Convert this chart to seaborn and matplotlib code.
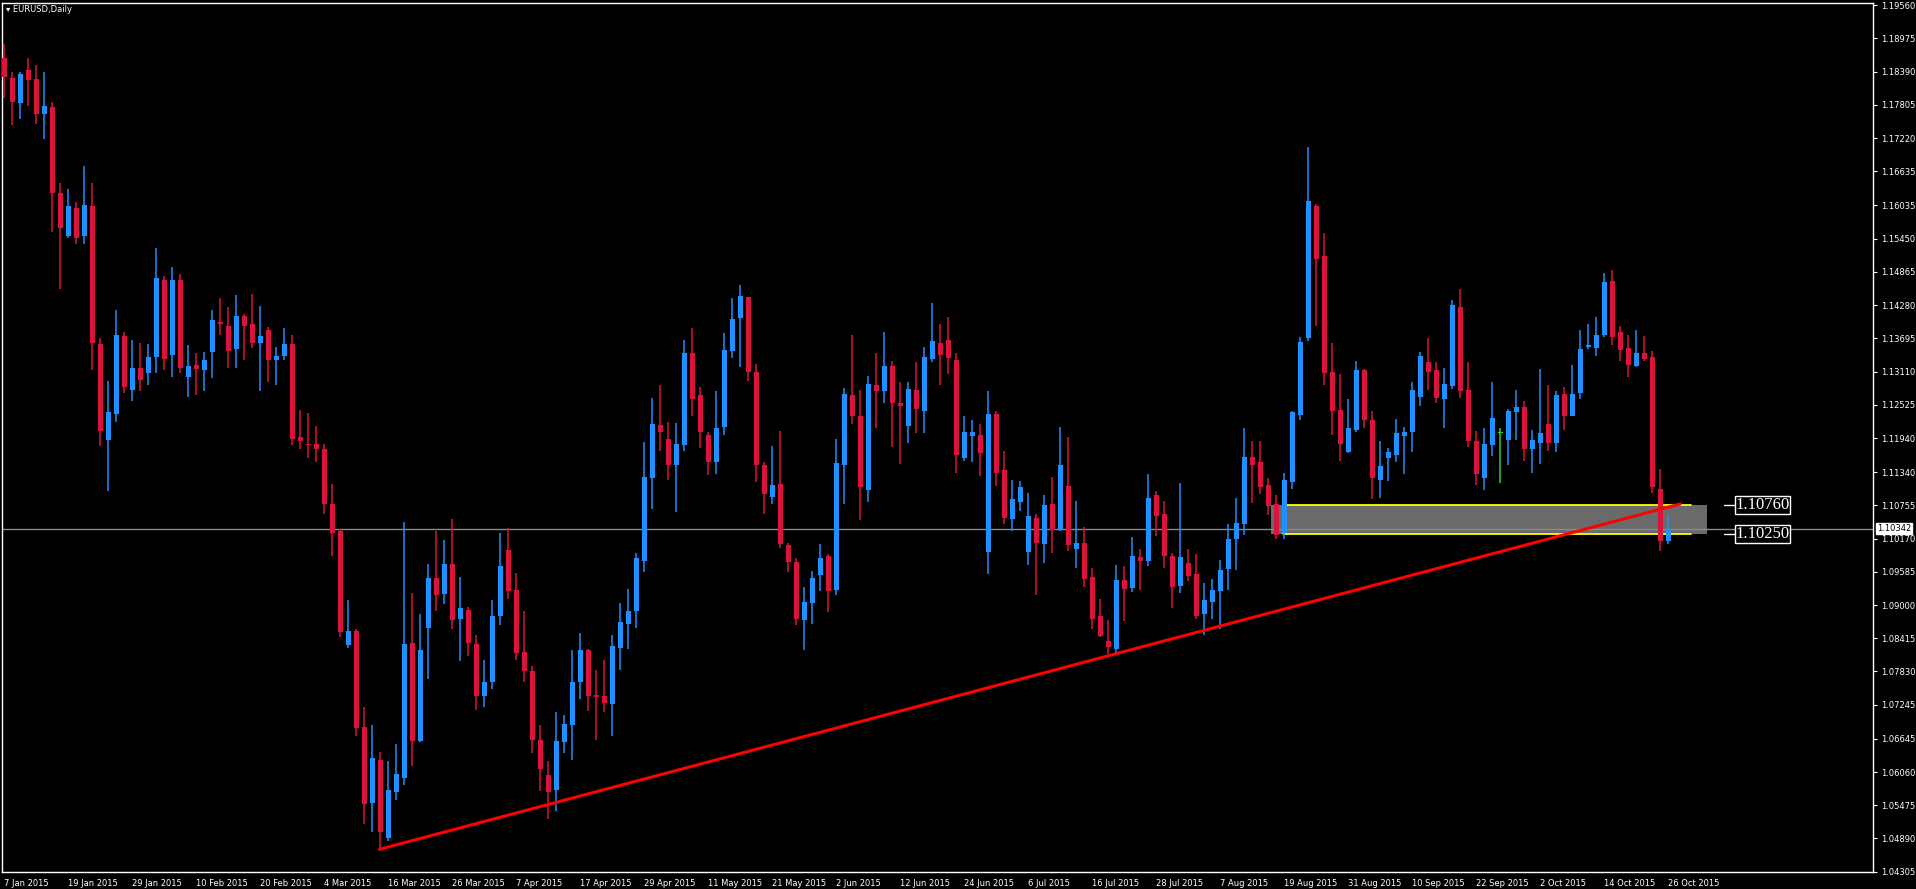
import matplotlib
matplotlib.use("Agg")
import matplotlib.pyplot as plt
import matplotlib.transforms as mtransforms
import numpy as np
import pandas as pd
import seaborn as sns

opens = [1.1863,1.1828,1.1783,1.1842,1.1826,1.1764,1.1777,1.1626,1.1549,1.1599,
1.1549,1.1603,1.1360,1.1190,1.1237,1.1373,1.1278,1.1317,1.1308,1.1336,
1.1473,1.1341,1.1473,1.1302,1.1322,1.1313,1.1345,1.1399,1.1392,1.1350,
1.1408,1.1394,1.1362,1.1385,1.1332,1.1338,1.1359,1.1195,1.1182,1.1183,
1.1174,1.1078,1.1031,1.0830,1.0855,1.0686,1.0551,1.0628,1.0489,1.0570,
1.0595,1.0834,1.0660,1.0860,1.0947,1.0920,1.0973,1.0876,1.0892,1.0832,
1.0739,1.0765,1.0881,1.0997,1.0927,1.0818,1.0783,1.0662,1.0600,1.0575,
1.0658,1.0688,1.0765,1.0820,1.0741,1.0739,1.0725,1.0825,1.0866,1.0890,
1.0978,1.1124,1.1217,1.1193,1.1147,1.1182,1.1344,1.1270,1.1200,1.1152,
1.1214,1.1347,1.1405,1.1442,1.1310,1.1147,1.1091,1.1113,1.1006,1.0976,
1.0874,1.0904,1.0952,1.0987,1.0927,1.1147,1.1270,1.1232,1.1102,1.1288,
1.1277,1.1320,1.1256,1.1216,1.1279,1.1241,1.1334,1.1362,1.1367,1.1332,
1.1158,1.1197,1.1200,1.0993,1.1237,1.1137,1.1051,1.1081,1.0993,1.1054,
1.1007,1.1077,1.1033,1.1109,1.0998,1.1010,1.0949,1.0880,1.0836,1.0822,
1.0944,1.0930,1.0984,1.0977,1.1093,1.1061,1.0986,1.0933,1.0974,1.0954,
1.0885,1.0905,1.0924,1.0963,1.1017,1.1042,1.1160,1.1151,1.1112,1.1077,
1.1026,1.1116,1.1235,1.1371,1.1603,1.1515,1.1311,1.1244,1.1170,1.1209,
1.1314,1.1225,1.1121,1.1158,1.1165,1.1198,1.1205,1.1267,1.1328,1.1314,
1.1263,1.1286,1.1425,1.1279,1.1189,1.1124,1.1181,1.1203,1.1190,1.1240,
1.1248,1.1174,1.1186,1.1219,1.1186,1.1272,1.1233,1.1274,1.1355,1.1353,
1.1376,1.1471,1.1381,1.1353,1.1321,1.1344,1.1337,1.1105,1.1013]
highs = [1.1888,1.1839,1.1839,1.1863,1.1851,1.1839,1.1786,1.1643,1.1633,1.1610,
1.1673,1.1643,1.1371,1.1294,1.1420,1.1380,1.1366,1.1362,1.1360,1.1529,
1.1480,1.1496,1.1482,1.1357,1.1343,1.1345,1.1420,1.1440,1.1425,1.1445,
1.1413,1.1447,1.1427,1.1390,1.1355,1.1387,1.1376,1.1244,1.1238,1.1215,
1.1183,1.1113,1.1033,1.0908,1.0858,1.0721,1.0688,1.0641,1.0625,1.0656,
1.1047,1.0922,1.0885,1.0973,1.1031,1.1015,1.1052,1.0950,1.0897,1.0848,
1.0804,1.0908,1.1027,1.1036,1.0957,1.0890,1.0792,1.0688,1.0625,1.0711,
1.0707,1.0820,1.0851,1.0822,1.0785,1.0804,1.0848,1.0903,1.0929,1.0992,
1.1187,1.1265,1.1287,1.1223,1.1221,1.1367,1.1388,1.1284,1.1205,1.1277,
1.1379,1.1440,1.1463,1.1442,1.1324,1.1152,1.1180,1.1207,1.1010,1.0983,
1.0931,1.0960,1.1008,1.0989,1.1193,1.1282,1.1376,1.1279,1.1304,1.1343,
1.1381,1.1330,1.1293,1.1292,1.1327,1.1355,1.1432,1.1395,1.1407,1.1344,
1.1233,1.1226,1.1219,1.1276,1.1242,1.1172,1.1121,1.1118,1.1097,1.1060,
1.1093,1.1125,1.1214,1.1196,1.1084,1.1037,1.0965,1.0910,1.0873,1.0970,
1.0968,1.1019,1.0998,1.1130,1.1100,1.1084,1.0991,1.1114,1.0998,1.0989,
1.0938,1.0945,1.0980,1.1042,1.1089,1.1212,1.1188,1.1188,1.1124,1.1093,
1.1133,1.1242,1.1372,1.1706,1.1606,1.1555,1.1362,1.1307,1.1262,1.1330,
1.1316,1.1242,1.1188,1.1177,1.1228,1.1214,1.1293,1.1346,1.1370,1.1327,
1.1318,1.1437,1.1457,1.1328,1.1207,1.1212,1.1293,1.1212,1.1246,1.1279,
1.1260,1.1209,1.1316,1.1288,1.1277,1.1283,1.1323,1.1385,1.1394,1.1407,
1.1485,1.1490,1.1392,1.1376,1.1385,1.1374,1.1348,1.1140,1.1058]
lows = [1.1793,1.1745,1.1755,1.1778,1.1746,1.1720,1.1556,1.1456,1.1546,1.1535,
1.1535,1.1314,1.1180,1.1100,1.1222,1.1273,1.1259,1.1276,1.1288,1.1309,
1.1313,1.1301,1.1308,1.1267,1.1269,1.1276,1.1299,1.1376,1.1317,1.1318,
1.1331,1.1352,1.1276,1.1292,1.1287,1.1332,1.1181,1.1174,1.1158,1.1152,
1.1061,1.0987,1.0843,1.0824,1.0670,1.0515,1.0500,1.0470,1.0484,1.0556,
1.0584,1.0616,1.0658,1.0769,1.0890,1.0901,1.0857,1.0802,1.0811,1.0716,
1.0721,1.0753,1.0864,1.0910,1.0804,1.0765,1.0640,1.0572,1.0524,1.0537,
1.0640,1.0628,1.0735,1.0714,1.0663,1.0711,1.0669,1.0786,1.0822,1.0860,
1.0959,1.1069,1.1171,1.1121,1.1064,1.1171,1.1233,1.1177,1.1129,1.1131,
1.1200,1.1335,1.1319,1.1294,1.1117,1.1061,1.1078,1.1001,1.0959,1.0864,
1.0820,1.0867,1.0925,1.0888,1.0917,1.1077,1.1219,1.1049,1.1082,1.1211,
1.1256,1.1179,1.1149,1.1186,1.1202,1.1202,1.1327,1.1288,1.1307,1.1133,
1.1153,1.1151,1.1128,1.0954,1.1110,1.1042,1.1031,1.1065,1.0970,1.0917,
1.0974,1.0991,1.1030,1.0996,1.0966,1.0931,1.0858,1.0843,1.0814,1.0815,
1.0872,1.0923,1.0926,1.0968,1.1021,1.0966,1.0894,1.0922,1.0942,1.0875,
1.0848,1.0875,1.0857,1.0926,1.0961,1.1024,1.1079,1.1096,1.1058,1.1017,
1.1017,1.1105,1.1226,1.1365,1.1392,1.1288,1.1200,1.1154,1.1168,1.1205,
1.1212,1.1086,1.1088,1.1119,1.1151,1.1130,1.1170,1.1251,1.1279,1.1255,
1.1211,1.1281,1.1265,1.1179,1.1112,1.1103,1.1163,1.1114,1.1146,1.1191,
1.1154,1.1133,1.1149,1.1172,1.1170,1.1209,1.1232,1.1263,1.1350,1.1339,
1.1372,1.1358,1.1330,1.1302,1.1319,1.1330,1.1098,1.0996,1.1007]
closes = [1.1830,1.1786,1.1835,1.1825,1.1764,1.1779,1.1625,1.1563,1.1603,1.1546,
1.1605,1.1361,1.1206,1.1239,1.1376,1.1283,1.1317,1.1297,1.1336,1.1476,
1.1334,1.1473,1.1317,1.1320,1.1315,1.1331,1.1401,1.1394,1.1348,1.1408,
1.1392,1.1362,1.1374,1.1331,1.1338,1.1359,1.1192,1.1188,1.1181,1.1174,
1.1077,1.1026,1.0852,1.0855,1.0683,1.0549,1.0630,1.0500,1.0574,1.0602,
1.0832,1.0660,1.0820,1.0947,1.0918,1.0973,1.0874,1.0894,1.0834,1.0739,
1.0765,1.0881,1.0969,1.0924,1.0815,1.0783,1.0663,1.0612,1.0570,1.0660,
1.0690,1.0765,1.0820,1.0739,1.0738,1.0727,1.0827,1.0871,1.0890,1.0982,
1.1126,1.1219,1.1205,1.1147,1.1184,1.1344,1.1263,1.1205,1.1152,1.1212,
1.1349,1.1403,1.1444,1.1310,1.1147,1.1096,1.1112,1.1008,1.0976,1.0876,
1.0906,1.0948,1.0983,1.0924,1.1150,1.1272,1.1233,1.1108,1.1290,1.1277,
1.1320,1.1255,1.1251,1.1281,1.1246,1.1337,1.1364,1.1341,1.1335,1.1165,
1.1204,1.1204,1.1167,1.1237,1.1133,1.1053,1.1086,1.1107,1.1056,1.1009,
1.1076,1.1032,1.1146,1.1005,1.1009,1.0945,1.0875,1.0845,1.0826,1.0944,
1.0928,1.0986,1.0977,1.1089,1.1056,1.0986,1.0931,1.0984,1.0951,1.0880,
1.0908,1.0926,1.0961,1.1017,1.1044,1.1161,1.1147,1.1107,1.1075,1.1024,
1.1121,1.1239,1.1363,1.1611,1.1509,1.1309,1.1241,1.1184,1.1211,1.1314,
1.1225,1.1123,1.1144,1.1170,1.1202,1.1205,1.1278,1.1339,1.1311,1.1265,
1.1290,1.1428,1.1277,1.1188,1.1130,1.1183,1.1230,1.1203,1.1242,1.1248,
1.1174,1.1191,1.1202,1.1186,1.1269,1.1233,1.1272,1.1351,1.1358,1.1376,
1.1469,1.1372,1.1349,1.1323,1.1343,1.1334,1.1108,1.1012,1.1034]

date_labels = ["7 Jan 2015","19 Jan 2015","29 Jan 2015","10 Feb 2015","20 Feb 2015",
"4 Mar 2015","16 Mar 2015","26 Mar 2015","7 Apr 2015","17 Apr 2015","29 Apr 2015",
"11 May 2015","21 May 2015","2 Jun 2015","12 Jun 2015","24 Jun 2015","6 Jul 2015",
"16 Jul 2015","28 Jul 2015","7 Aug 2015","19 Aug 2015","31 Aug 2015","10 Sep 2015",
"22 Sep 2015","2 Oct 2015","14 Oct 2015","26 Oct 2015"]
price_ticks = [1.19560,1.18975,1.18390,1.17805,1.17220,1.16635,1.16035,1.15450,1.14865,
1.14280,1.13695,1.13110,1.12525,1.11940,1.11340,1.10755,1.10170,1.09585,1.09000,
1.08415,1.07830,1.07245,1.06645,1.06060,1.05475,1.04890,1.04305]
current_price = 1.10342
zone_top, zone_bottom = 1.10760, 1.10250
zone_bars = [158.4, 212.8]
yellow_bars = [159.9, 210.8]
trend_bars = [46.9, 209.5]
trend_prices = [1.0470, 1.1078]

df = pd.DataFrame({"o": opens, "h": highs, "l": lows, "c": closes})
df["i"] = np.arange(len(df))

sns.set_style("dark", {"axes.facecolor": "black", "figure.facecolor": "black"})
plt.rcParams["font.family"] = ["DejaVu Sans"]

W, H = 1916, 889
fig = plt.figure(figsize=(W/100, H/100), dpi=100, facecolor="black")
ax = fig.add_axes([2/W, (H-872)/H, (1873-2)/W, (872-3)/H])
ax.set_facecolor("black")
ax.set_xlim(-0.29, 233.6)
ax.set_ylim(1.04300, 1.19599)

BLUE, RED, GREEN = "#1E90FF", "#DC143C", "#32CD32"
cols = np.where(df.c > df.o, BLUE, np.where(df.c < df.o, RED, GREEN))

# zone and lines behind candles
ax.fill_between(zone_bars, zone_bottom, zone_top, color="#6a6a6a", zorder=1, lw=0)
ax.axhline(current_price, color="#8a8a8a", lw=1, zorder=1.5)
for p in (zone_top, zone_bottom):
    ax.plot(yellow_bars, [p, p], color="#ffff00", lw=1.3, zorder=1.6)

ax.vlines(df.i, df.l, df.h, colors=cols, lw=1.1, zorder=3)
bh = np.maximum((df.c - df.o).abs(), 0.00018)
ax.bar(df.i, bh, bottom=np.minimum(df.o, df.c), width=0.62, color=cols, lw=0, zorder=3)

sns.lineplot(x=trend_bars, y=trend_prices, ax=ax, color="#ff0000", lw=2.2, zorder=4)

# axes styling
for s in ax.spines.values():
    s.set_color("white"); s.set_linewidth(1)
ax.yaxis.tick_right()
ax.set_yticks(price_ticks)
ax.set_yticklabels([f"{v:.5f}" for v in price_ticks])
ax.tick_params(axis="y", colors="white", labelsize=6, length=3, pad=3, direction="out")
ax.set_xticks(np.arange(0, 8*len(date_labels), 8))
ax.set_xticklabels(date_labels, ha="left")
ax.tick_params(axis="x", colors="white", labelsize=6, length=3, pad=2, direction="out")
ax.grid(False)
ax.set_xlabel(""); ax.set_ylabel("")

trans = mtransforms.blended_transform_factory(ax.transAxes, ax.transData)
ax.text(1.002, current_price, f"{current_price:.5f}", transform=trans, fontsize=6,
        color="black", va="center", ha="left",
        bbox=dict(facecolor="white", edgecolor="white", pad=0.8), clip_on=False, zorder=6)

for p in (zone_top, zone_bottom):
    ax.plot([215.0, 216.2], [p, p], color="white", lw=1, zorder=5)
    ax.text(216.4, p, f"{p:.5f}", fontsize=12, color="white", va="center", ha="left",
            family=["Liberation Serif"],
            bbox=dict(facecolor="black", edgecolor="white", pad=0.6, lw=1), zorder=6)

fig.text(6/W, 1-9/H, "\u25BE EURUSD,Daily", fontsize=6, color="white", va="center")

fig.savefig("out.png", dpi=100, facecolor="black")
